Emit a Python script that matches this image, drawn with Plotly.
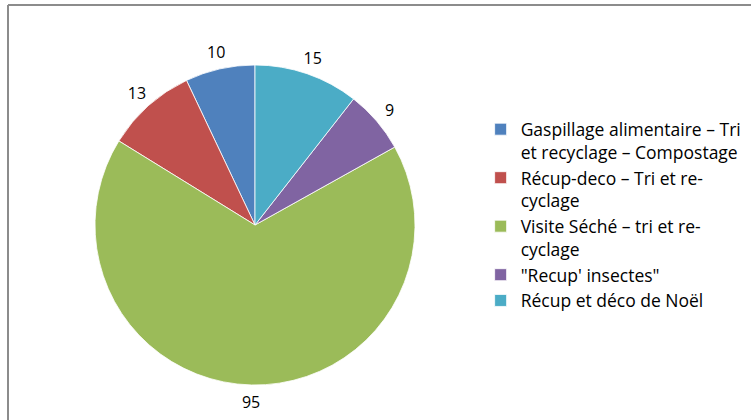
import plotly.graph_objects as go

# Data in series order (drawn counter-clockwise from 12 o'clock, as in the Excel chart)
labels = [
    "Gaspillage alimentaire – Tri<br>et recyclage – Compostage",
    "Récup-deco – Tri et re-<br>cyclage",
    "Visite Séché – tri et re-<br>cyclage",
    "\"Recup' insectes\"",
    "Récup et déco de Noël",
]
values = [10, 13, 95, 9, 15]
colors = ["#4F81BD", "#C0504D", "#9BBB59", "#8064A2", "#4BACC6"]

W, H = 751, 420
FONT = "'Open Sans', sans-serif"

# pie box in pixels: centre (255, 225), radius 160
cx, cy, r = 255, 225, 160
# value labels sit on a transparent ring just outside the pie
r_out = 194


def domain(radius):
    return dict(x=[(cx - radius) / W, (cx + radius) / W],
                y=[1 - (cy + radius) / H, 1 - (cy - radius) / H])


# plotly ends the first slice at 12 o'clock when counter-clockwise, so shift it back
start_shift = -360.0 * values[0] / sum(values)

pie = go.Pie(
    labels=labels,
    values=values,
    sort=False,
    direction="counterclockwise",
    rotation=start_shift,
    marker=dict(colors=colors, line=dict(color="white", width=0.8)),
    textinfo="none",
    domain=domain(r),
    hoverinfo="label+value",
)

# ring carrying the data labels (Excel's "outside end" placement)
ring = go.Pie(
    labels=labels,
    values=values,
    sort=False,
    direction="counterclockwise",
    rotation=start_shift,
    hole=r / r_out,
    marker=dict(colors=["rgba(0,0,0,0)"] * len(values), line=dict(width=0)),
    textinfo="value",
    textposition="inside",
    insidetextorientation="horizontal",
    textfont=dict(family=FONT, size=16, color="#000000"),
    domain=domain(r_out),
    showlegend=False,
    hoverinfo="skip",
)

fig = go.Figure([pie, ring])

fig.update_layout(
    width=W,
    height=H,
    margin=dict(l=0, r=0, t=0, b=0),
    paper_bgcolor="white",
    plot_bgcolor="white",
    font=dict(family=FONT, color="#000000"),
    legend=dict(
        x=0.64,
        y=0.735,
        xanchor="left",
        yanchor="top",
        valign="top",
        font=dict(family=FONT, size=17.5, color="#000000"),
        itemwidth=30,
    ),
    shapes=[
        dict(type="line", xref="paper", yref="paper",
             x0=8 / W, x1=1.01, y0=1 - 5 / H, y1=1 - 5 / H,
             line=dict(color="#8c8c8c", width=2)),
        dict(type="line", xref="paper", yref="paper",
             x0=8 / W, x1=8 / W, y0=-0.01, y1=1 - 5 / H,
             line=dict(color="#8c8c8c", width=2)),
    ],
)

# the page body has a default 8px margin; drop it so the chart sits at 0,0
fig.write_html(
    "out.html",
    config={"displayModeBar": False},
    post_script="document.body.style.margin='0';",
)
